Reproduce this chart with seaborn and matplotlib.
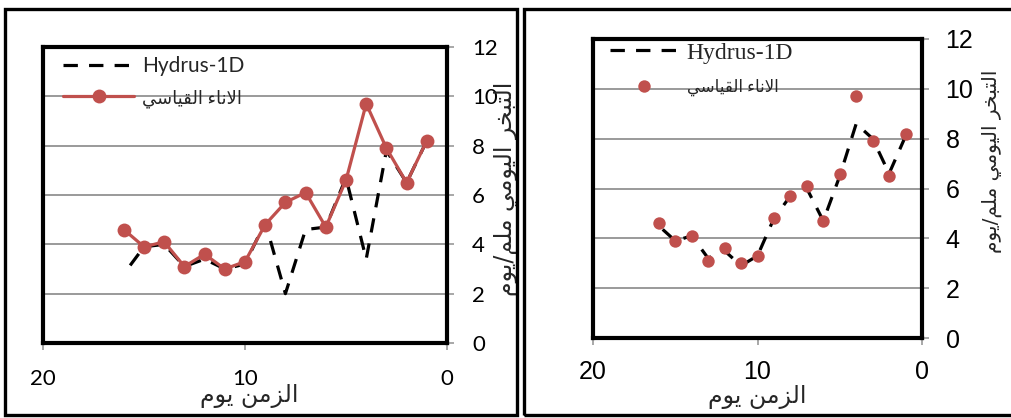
import pandas as pd
import seaborn as sns
import matplotlib.pyplot as plt
from matplotlib.patches import Rectangle

# data (day counted backwards, 16 .. 1)
days = [16, 15, 14, 13, 12, 11, 10, 9, 8, 7, 6, 5, 4, 3, 2, 1]
pan_et = [4.6, 3.9, 4.1, 3.1, 3.6, 3.0, 3.3, 4.8, 5.7, 6.1, 4.7, 6.6, 9.7, 7.9, 6.5, 8.2]
hydrus_left = [2.8, 3.9, 4.0, 3.1, 3.4, 3.0, 3.2, 4.9, 2.0, 4.6, 4.7, 6.7, 3.4, 7.8, 6.5, 8.2]
hydrus_right = [4.5, 3.9, 4.1, 3.2, 3.5, 2.9, 3.3, 4.8, 5.7, 6.0, 4.7, 6.5, 8.6, 8.0, 6.6, 8.1]
x_ticks = [20, 10, 0]
y_ticks = [0, 2, 4, 6, 8, 10, 12]

label_hydrus = "Hydrus-1D"
label_pan = "الاناء القياسي"
label_x = "الزمن يوم"
label_y = "التبخر اليومي ملم/يوم"

RED = "#C0504D"
GRID = "#9a9a9a"

# matplotlib does no Arabic shaping, so pick the joined presentation forms
# (isolated, final, initial, medial) and lay the letters out right to left
AR_FORMS = {
    "\u0627": "\uFE8D\uFE8E",
    "\u0621": "\uFE80",
    "\u0628": "\uFE8F\uFE90\uFE91\uFE92",
    "\u062A": "\uFE95\uFE96\uFE97\uFE98",
    "\u062E": "\uFEA5\uFEA6\uFEA7\uFEA8",
    "\u0631": "\uFEAD\uFEAE",
    "\u0632": "\uFEAF\uFEB0",
    "\u0633": "\uFEB1\uFEB2\uFEB3\uFEB4",
    "\u0642": "\uFED5\uFED6\uFED7\uFED8",
    "\u0644": "\uFEDD\uFEDE\uFEDF\uFEE0",
    "\u0645": "\uFEE1\uFEE2\uFEE3\uFEE4",
    "\u0646": "\uFEE5\uFEE6\uFEE7\uFEE8",
    "\u0648": "\uFEED\uFEEE",
    "\u064A": "\uFEF1\uFEF2\uFEF3\uFEF4",
}


def shape_ar(text):
    out = []
    i = 0
    while i < len(text):
        ch = text[i]
        forms = AR_FORMS.get(ch)
        if forms is None:
            out.append(ch)
            i += 1
            continue
        prev = text[i - 1] if i > 0 else ""
        joins_prev = len(forms) > 1 and len(AR_FORMS.get(prev, "")) == 4
        if ch == "\u0644" and text[i + 1:i + 2] == "\u0627":
            out.append("\uFEFC" if joins_prev else "\uFEFB")
            i += 2
            continue
        nxt = text[i + 1] if i + 1 < len(text) else ""
        joins_next = len(forms) == 4 and len(AR_FORMS.get(nxt, "")) > 1
        if joins_prev and joins_next:
            out.append(forms[3])
        elif joins_prev:
            out.append(forms[1])
        elif joins_next:
            out.append(forms[2])
        else:
            out.append(forms[0])
        i += 1
    return "".join(reversed(out))


sns.set_theme(style="white")
plt.rcParams["font.family"] = ["Lato", "DejaVu Sans"]

df_left = pd.DataFrame({"day": days, "hydrus": hydrus_left, "pan": pan_et})
df_right = pd.DataFrame({"day": days, "hydrus": hydrus_right, "pan": pan_et})

fig = plt.figure(figsize=(10.11, 4.18), dpi=100)
W, H = 1011, 418


def px_axes(x0, y0, x1, y1):
    return fig.add_axes([x0 / W, (H - y1) / H, (x1 - x0) / W, (y1 - y0) / H])


# outer frames around each panel
for x0, x1 in [(5, 517), (524, 1016)]:
    fig.patches.append(Rectangle((x0 / W, (H - 415) / H), (x1 - x0) / W, 406 / H,
                                 transform=fig.transFigure, fill=False,
                                 edgecolor="black", lw=2.4))

ax1 = px_axes(43, 47, 447, 343)
ax2 = px_axes(593, 39, 922, 338)


def style_axes(ax, tick_font, tick_size, ypad, xpad):
    ax.set_xlim(20, 0)
    ax.set_ylim(0, 12)
    ax.set_xticks(x_ticks)
    ax.set_yticks(y_ticks)
    ax.yaxis.tick_right()
    ax.yaxis.set_label_position("right")
    ax.set_axisbelow(True)
    ax.yaxis.grid(True, color=GRID, lw=1.4)
    ax.xaxis.grid(False)
    for sp in ax.spines.values():
        sp.set_color("black")
        sp.set_linewidth(3)
    ax.tick_params(axis="y", right=True, left=False, labelright=True, labelleft=False,
                   direction="out", length=5, width=1.2, color=GRID, pad=ypad)
    ax.tick_params(axis="x", bottom=True, direction="out", length=5, width=1.2,
                   color=GRID, pad=xpad)
    for t in ax.get_xticklabels() + ax.get_yticklabels():
        t.set_fontfamily(tick_font)
        t.set_fontsize(tick_size)
        t.set_color("black")


# left panel: simulated vs pan, both as lines
sns.lineplot(data=df_left, x="day", y="hydrus", ax=ax1, color="black", lw=2.3,
             linestyle=(0, (4.5, 3.5)), errorbar=None, label=label_hydrus)
sns.lineplot(data=df_left, x="day", y="pan", ax=ax1, color=RED, lw=2.3, marker="o",
             markersize=10, markeredgewidth=0, errorbar=None, label=shape_ar(label_pan))
style_axes(ax1, "Lato", 16, 13, 14)
ax1.set_xlabel(shape_ar(label_x), fontsize=17, family="DejaVu Sans", va="center")
ax1.xaxis.set_label_coords(0.51, -0.178)
ax1.set_ylabel(shape_ar(label_y), fontsize=17, family="DejaVu Sans", rotation=90, va="center")
ax1.yaxis.set_label_coords(1.145, 0.52)
leg1 = ax1.legend(loc="upper left", bbox_to_anchor=(0.05, 0.97), frameon=False,
                  borderpad=0, borderaxespad=0, handlelength=3.4, handletextpad=0.4,
                  labelspacing=0.6, prop={"family": ["Lato", "DejaVu Sans"], "size": 15})
leg1.get_texts()[1].set_fontsize(13)

# right panel: simulated as dashed line, pan as points
sns.lineplot(data=df_right, x="day", y="hydrus", ax=ax2, color="black", lw=2.3,
             linestyle=(0, (4.5, 3.5)), errorbar=None, label=label_hydrus)
sns.scatterplot(data=df_right, x="day", y="pan", ax=ax2, color=RED, s=80, linewidth=0,
                label=shape_ar(label_pan), zorder=3)
style_axes(ax2, "Liberation Sans", 18, 12, 11)
ax2.set_xlabel(shape_ar(label_x), fontsize=17, family="DejaVu Sans", va="center")
ax2.xaxis.set_label_coords(0.5, -0.198)
ax2.set_ylabel(shape_ar(label_y), fontsize=14.5, family="DejaVu Sans", rotation=90, va="center")
ax2.yaxis.set_label_coords(1.212, 0.59)
leg2 = ax2.legend(loc="upper left", bbox_to_anchor=(0.052, 0.99), frameon=False,
                  borderpad=0, borderaxespad=0, handlelength=2.9, handletextpad=0.35,
                  labelspacing=0.5, scatterpoints=1,
                  prop={"family": ["Liberation Serif", "DejaVu Sans"], "size": 17})
leg2.get_texts()[1].set_fontsize(12)

fig.savefig("out.png", dpi=100)
